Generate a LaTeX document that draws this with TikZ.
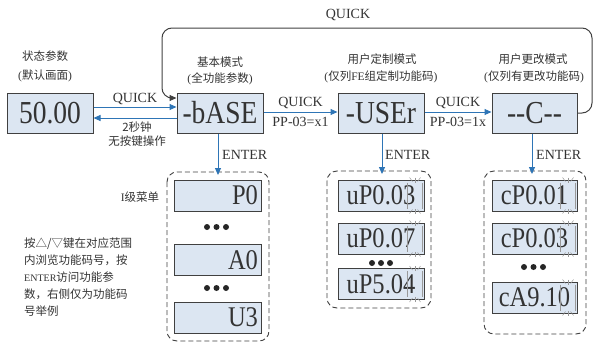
\documentclass[tikz,border=0pt]{standalone}
\usepackage{fontspec}
\usepackage{graphicx}
\setmainfont{Liberation Serif}
\newfontfamily\cjk{Noto Sans CJK SC}
\usetikzlibrary{arrows.meta}
\definecolor{boxfill}{HTML}{DCE6F2}
\definecolor{boxline}{HTML}{404040}
\definecolor{arrblue}{HTML}{2E75B6}
\definecolor{txt}{HTML}{333333}
\newcommand{\dtxt}[1]{\scalebox{0.86}[1]{#1}}
\tikzset{
  disp/.style={draw=boxline, fill=boxfill, line width=1pt, minimum width=86pt, minimum height=40pt, inner sep=0pt, text=txt, font=\fontsize{32}{32}\selectfont},
  sdisp/.style={draw=boxline, fill=boxfill, line width=1pt, minimum width=86pt, minimum height=31pt, inner sep=0pt, text=txt, font=\fontsize{28.5}{28.5}\selectfont},
  barrow/.style={draw=arrblue, line width=1pt, -{Triangle[length=7pt,width=6pt]}},
  lbl/.style={font=\fontsize{14}{14}\selectfont, text=txt, inner sep=0pt},
  cjklbl/.style={font=\cjk\fontsize{11.5}{11.5}\selectfont, text=txt, inner sep=0pt},
  grp/.style={draw=boxline, dash pattern=on 5pt off 3pt, rounded corners=10pt, line width=0.9pt},
  blinkln/.style={draw=gray!80, line width=0.5pt},
  dotmark/.style={fill=black!85}
}
\newcommand{\blinkmark}[1]{%
  \draw[blinkln] ([xshift=-17pt,yshift=-3pt]#1.north east) -- ([xshift=-17pt,yshift=3pt]#1.south east);
  \draw[blinkln] ([xshift=-2pt,yshift=-3pt]#1.north east) -- ([xshift=-2pt,yshift=3pt]#1.south east);
  \draw[blinkln] ([xshift=-9.5pt,yshift=2pt]#1.north east) -- ([xshift=-9.5pt,yshift=-3pt]#1.north east);
  \draw[blinkln] ([xshift=-9.5pt,yshift=-2pt]#1.south east) -- ([xshift=-9.5pt,yshift=3pt]#1.south east);
  \draw[blinkln] ([xshift=-15pt,yshift=2pt]#1.north east) -- ([xshift=-12pt,yshift=-2pt]#1.north east);
  \draw[blinkln] ([xshift=-4pt,yshift=2pt]#1.north east) -- ([xshift=-7pt,yshift=-2pt]#1.north east);
  \draw[blinkln] ([xshift=-15pt,yshift=-2pt]#1.south east) -- ([xshift=-12pt,yshift=2pt]#1.south east);
  \draw[blinkln] ([xshift=-4pt,yshift=-2pt]#1.south east) -- ([xshift=-7pt,yshift=2pt]#1.south east);
}
\begin{document}
\begin{tikzpicture}[x=1pt,y=-1pt]
\useasboundingbox (0,0) rectangle (594,343);

% main displays
\node[disp] (s) at (50,113) {\dtxt{50.00}};
\node[disp] (b) at (220,113) {\dtxt{-bASE}};
\node[disp] (u) at (381,113) {\dtxt{-USEr}};
\node[disp, minimum width=85pt] (c) at (534.5,113) {\dtxt{-{}-C-{}-}};

% titles
\node[cjklbl] (t1a) at (45,56) {状态参数};
\node[cjklbl] (t1b) at (45,76) {{\rmfamily(}默认画面{\rmfamily)}};
\node[cjklbl] (t2a) at (220,62) {基本模式};
\node[cjklbl] (t2b) at (220,79) {{\rmfamily(}全功能参数{\rmfamily)}};
\node[cjklbl] (t3a) at (382,59) {用户定制模式};
\node[cjklbl] (t3b) at (381,77) {{\rmfamily(}仅列{\rmfamily FE}组定制功能码{\rmfamily)}};
\node[cjklbl] (t4a) at (533,59) {用户更改模式};
\node[cjklbl] (t4b) at (534,77) {{\rmfamily(}仅列有更改功能码{\rmfamily)}};

% horizontal arrows
\draw[barrow] ([yshift=6pt]s.east) -- ([yshift=6pt]b.west);
\draw[barrow] ([yshift=-5pt]b.west) -- ([yshift=-5pt]s.east);
\draw[barrow] ([yshift=1pt]b.east) -- ([yshift=1pt]u.west);
\draw[barrow] ([yshift=1pt]u.east) -- ([yshift=1pt]c.west);

\node[lbl] (q1) at (135,98.5) {QUICK};
\node[cjklbl] (w1) at (137,127) {2秒钟};
\node[cjklbl] (w2) at (137,141) {无按键操作};
\node[lbl] (q2) at (300.5,102.5) {QUICK};
\node[lbl] (p2) at (300.5,122) {PP-03=x1};
\node[lbl] (q3) at (458,102.5) {QUICK};
\node[lbl] (p3) at (458,122) {PP-03=1x};

% loop back
\coordinate (lr) at (592,28);
\coordinate (ll) at (162,28);
\coordinate (bent) at ([yshift=15pt]b.west);
\draw[draw=boxline, line width=1pt, rounded corners=10pt, -{Triangle[length=7pt,width=6pt]}]
  (c.east) -- (c.east -| lr) -- (lr) -- (ll) -- (ll |- bent) -- (bent);
\node[lbl] (q4) at (348,15) {QUICK};

% groups
\draw[grp] (167,172) rectangle (269,341);
\draw[grp] (327,171) rectangle (431,308);
\draw[grp] (484,171) rectangle (586,334);
\coordinate (g1) at (218,172);
\coordinate (g2) at (382,171);
\coordinate (g3) at (532,171);

% left group
\node[sdisp, minimum width=87pt, align=right, text width=81pt] (p0) at (217.5,195.5) {\dtxt{P0}};
\node[sdisp, minimum width=87pt, align=right, text width=81pt] (a0) at (217.5,260) {\dtxt{A0}};
\node[sdisp, minimum width=87pt, align=right, text width=81pt] (u3) at (217.5,317.5) {\dtxt{U3}};
\foreach \x in {207,216.5,226} {\fill[dotmark] (\x,227) circle (3pt);}
\foreach \x in {207,216.5,226} {\fill[dotmark] (\x,288) circle (3pt);}

% middle group
\node[sdisp] (m1) at (381,195.5) {\dtxt{uP0.03}};
\node[sdisp] (m2) at (381,238.5) {\dtxt{uP0.07}};
\node[sdisp] (m3) at (381,284) {\dtxt{uP5.04}};
\foreach \x in {372,381,390} {\fill[dotmark] (\x,263) circle (3pt);}
\blinkmark{m1}
\blinkmark{m2}
\blinkmark{m3}

% right group
\node[sdisp, minimum width=85pt] (r1) at (534.5,195.5) {\dtxt{cP0.01}};
\node[sdisp, minimum width=85pt] (r2) at (534.5,238.5) {\dtxt{cP0.03}};
\node[sdisp, minimum width=85pt] (r3) at (534.5,297.5) {\dtxt{cA9.10}};
\foreach \x in {524,533.5,543} {\fill[dotmark] (\x,267) circle (3pt);}
\blinkmark{r1}
\blinkmark{r2}
\blinkmark{r3}

% enter arrows
\draw[barrow] (b.south -| g1) -- ([yshift=-3pt]g1);
\draw[barrow] (u.south -| g2) -- ([yshift=-3pt]g2);
\draw[barrow] (c.south -| g3) -- ([yshift=-3pt]g3);
\node[lbl, anchor=west] (e1) at (222,155) {ENTER};
\node[lbl, anchor=west] (e2) at (385,155) {ENTER};
\node[lbl, anchor=west] (e3) at (536,155) {ENTER};

% side texts
\node[cjklbl] (lvl) at (140,197) {{\rmfamily I}级菜单};
\node[cjklbl, anchor=north west, align=left, font=\cjk\fontsize{11.5}{17}\selectfont] (help) at (24,238)
  {按△/▽键在对应范围\\内浏览功能码号，按\\{\rmfamily\fontsize{10}{17}\selectfont ENTER}访问功能参\\数，右侧仅为功能码\\号举例};
\end{tikzpicture}
\end{document}
